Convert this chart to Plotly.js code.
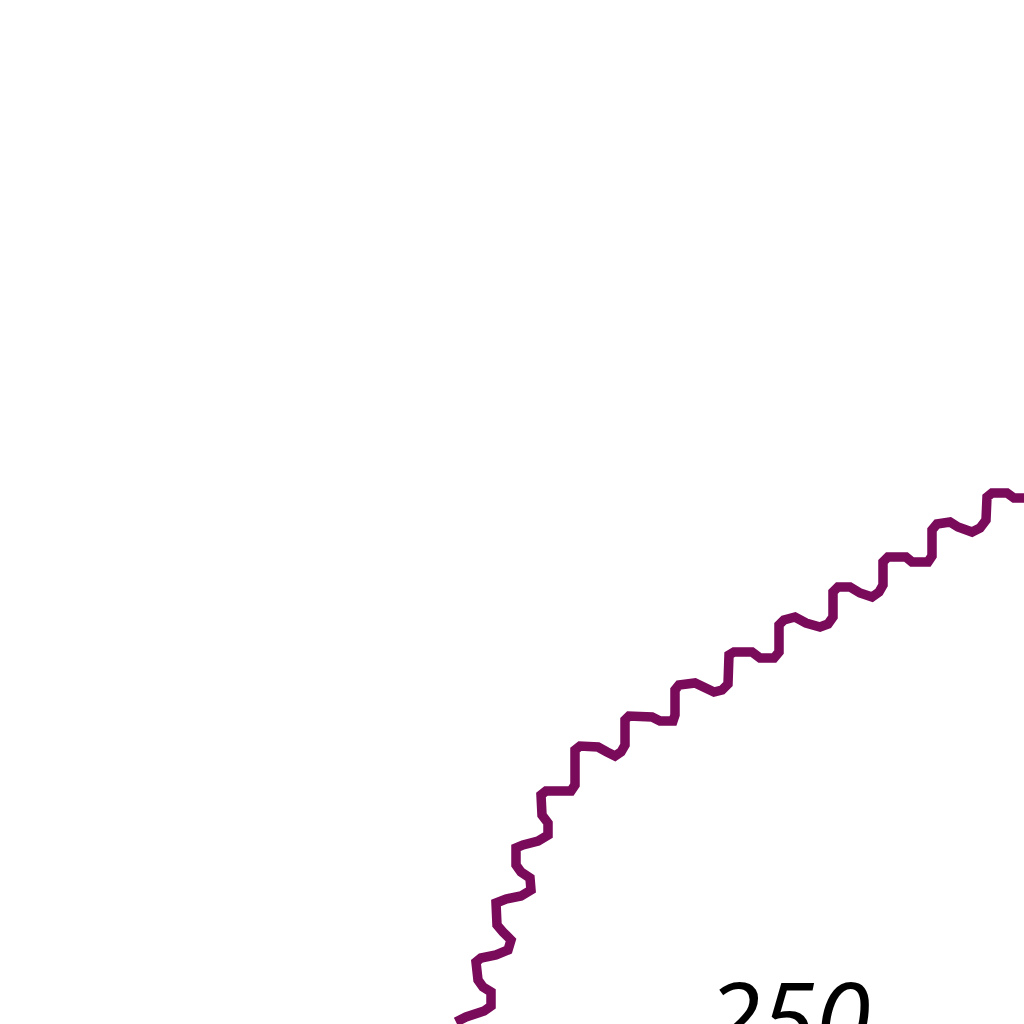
<!DOCTYPE html>
<html>
<head>
<meta charset="utf-8">
<script src="https://cdn.plot.ly/plotly-3.0.1.min.js"></script>
<style>
  html, body { margin: 0; padding: 0; background: #ffffff; overflow: hidden; }
  #chart { width: 1024px; height: 1024px; }
</style>
</head>
<body>
<div id="chart"></div>
<script>
// Traced curve values (x in axis units, y in axis units)
const xValues = [216.8, 217.8, 219.6, 220.3, 220.3, 219.5, 219.0, 218.8, 219.3, 220.8,
  222.0, 222.3, 221.5, 220.9, 220.8, 221.8, 223.3, 224.3, 224.2, 223.3,
  222.8, 222.8, 223.5, 225.0, 226.0, 226.0, 225.4, 225.3, 225.8, 228.3,
  228.7, 228.7, 229.2, 231.0, 231.9, 232.7, 233.3, 233.7, 233.7, 234.1,
  236.4, 237.2, 238.5, 238.7, 238.7, 239.1, 240.7, 241.6, 242.6, 243.4,
  244.0, 244.1, 244.6, 246.4, 247.2, 248.6, 249.1, 249.1, 249.6, 250.7,
  251.8, 253.2, 254.0, 254.5, 254.5, 255.0, 256.2, 257.2, 258.4, 259.1,
  259.5, 259.5, 260.0, 261.8, 262.4, 264.0, 264.4, 264.4, 264.9, 266.2,
  267.0, 268.4, 269.2, 269.8, 269.9, 270.4, 271.9, 272.6, 273.8];
const yValues = [0.2, 0.7, 1.3, 1.8, 3.2, 3.7, 4.4, 6.2, 6.6, 6.9,
  7.4, 8.4, 9.2, 9.9, 12.1, 12.5, 12.8, 13.4, 14.6, 15.2,
  15.9, 17.6, 17.9, 18.3, 18.9, 20.1, 20.9, 22.9, 23.3, 23.3,
  23.9, 27.4, 27.8, 27.7, 27.2, 26.8, 27.2, 27.9, 30.4, 30.8,
  30.7, 30.3, 30.3, 30.9, 33.4, 33.9, 34.1, 33.6, 33.2, 33.4,
  34.0, 36.9, 37.2, 37.2, 36.6, 36.6, 37.2, 39.9, 40.4, 40.7,
  40.1, 39.7, 40.0, 40.7, 43.2, 43.7, 43.7, 43.1, 42.7, 43.2,
  43.9, 46.2, 46.7, 46.7, 46.2, 46.2, 46.8, 49.4, 50.0, 50.2,
  49.7, 49.2, 49.6, 50.4, 52.7, 53.1, 53.1, 52.6, 52.6];
const tickValues = [250];
const tickLabels = ["250"];

const trace = {
  type: 'scatter',
  mode: 'lines',
  x: xValues,
  y: yValues,
  line: { color: '#7a0a5a', width: 9.5, shape: 'linear' },
  hoverinfo: 'skip',
  showlegend: false
};

const layout = {
  width: 1024,
  height: 1024,
  margin: { l: 0, r: 0, t: 0, b: 0, pad: 0 },
  paper_bgcolor: '#ffffff',
  plot_bgcolor: '#ffffff',
  showlegend: false,
  xaxis: {
    range: [171.2, 273.6],
    anchor: 'free',
    position: 0.068,
    tickvals: tickValues,
    ticktext: tickLabels,
    ticks: '',
    showline: false,
    showgrid: false,
    zeroline: false,
    tickfont: { family: 'Open Sans', size: 100, color: '#000000', style: 'italic' },
    fixedrange: true
  },
  yaxis: {
    range: [0, 102.4],
    visible: false,
    showgrid: false,
    zeroline: false,
    fixedrange: true
  }
};

Plotly.newPlot('chart', [trace], layout, { displayModeBar: false, staticPlot: true });
</script>
</body>
</html>
